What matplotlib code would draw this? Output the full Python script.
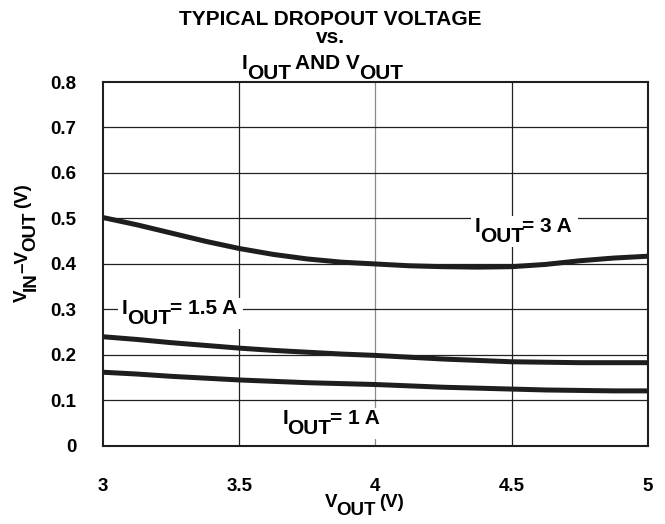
import numpy as np
import matplotlib.pyplot as plt
from matplotlib.transforms import Bbox
from matplotlib.patches import Rectangle

plt.rcParams['font.family'] = ['Liberation Sans', 'DejaVu Sans']
plt.rcParams['font.weight'] = 'bold'

# data
v_out = [3.0, 3.125, 3.25, 3.375, 3.5, 3.625, 3.75, 3.875, 4.0,
         4.125, 4.25, 4.375, 4.5, 4.625, 4.75, 4.875, 5.0]
drop_3a = [0.502, 0.486, 0.468, 0.450, 0.434, 0.421, 0.411, 0.404, 0.400,
           0.396, 0.394, 0.393, 0.394, 0.399, 0.407, 0.413, 0.417]
drop_1p5a = [0.240, 0.234, 0.227, 0.221, 0.215, 0.210, 0.206, 0.202, 0.199,
             0.195, 0.191, 0.188, 0.185, 0.184, 0.183, 0.183, 0.183]
drop_1a = [0.162, 0.158, 0.153, 0.149, 0.145, 0.142, 0.139, 0.137, 0.135,
           0.132, 0.129, 0.127, 0.125, 0.123, 0.122, 0.121, 0.121]

xticks = [3, 3.5, 4, 4.5, 5]
xtick_labels = ['3', '3.5', '4', '4.5', '5']
yticks = [0, 0.1, 0.2, 0.3, 0.4, 0.5, 0.6, 0.7, 0.8]
ytick_labels = ['0', '0.1', '0.2', '0.3', '0.4', '0.5', '0.6', '0.7', '0.8']

fig = plt.figure(figsize=(6.65, 5.24), dpi=100)
ax = fig.add_axes([0.155, 0.149, 0.819, 0.6945])


def chain(x, y, pieces, size, transform, rotation=0, zorder=5):
    # text with same-size lowered subscripts: pieces = [(text, shift_pts, gap_pts)]
    out = []
    prev_shift = 0
    for i, (s, shift, gap) in enumerate(pieces):
        if i == 0:
            if rotation:
                t = fig.text(x, y, s, fontsize=size, rotation=90, ha='right', va='bottom',
                             transform=transform, zorder=zorder)
            else:
                t = ax.text(x, y, s, fontsize=size, ha='left', va='baseline',
                            transform=transform, zorder=zorder)
        else:
            if rotation:
                t = ax.annotate(s, xy=(1, 1), xycoords=out[-1], rotation=90,
                                xytext=(-(shift - prev_shift), gap), textcoords='offset points',
                                fontsize=size, ha='right', va='bottom', zorder=zorder,
                                annotation_clip=False)
            else:
                t = ax.annotate(s, xy=(1, 0), xycoords=out[-1],
                                xytext=(gap, shift - prev_shift), textcoords='offset points',
                                fontsize=size, ha='left', va='bottom', zorder=zorder,
                                annotation_clip=False)
        prev_shift = shift
        out.append(t)
    return out


for x in xticks[1:-1]:
    c = '#8a8a8a' if x == 4 else '#222222'
    ax.axvline(x, color=c, lw=0.9, zorder=1)
for y in yticks[1:-1]:
    ax.axhline(y, color='#222222', lw=0.9, zorder=1)

for d in (drop_3a, drop_1p5a, drop_1a):
    ax.plot(v_out, d, color='#1e1e1e', lw=3.6, solid_capstyle='round', zorder=3)

ax.set_xlim(3, 5)
ax.set_ylim(0, 0.8)
ax.set_xticks(xticks)
ax.set_xticklabels(xtick_labels)
ax.set_yticks(yticks)
ax.set_yticklabels(ytick_labels)
ax.tick_params(length=0, labelsize=13.5, pad=23)
ax.tick_params(axis='y', pad=19)
for s in ax.spines.values():
    s.set_linewidth(1.5)
    s.set_color('#1e1e1e')

sub = -7
labels = [
    chain(4.365, 0.470, [('I', 0, 0), ('OUT', sub, -0.5), ('= 3 A', 0, -1.0)], 15, ax.transData),
    chain(3.069, 0.290, [('I', 0, 0), ('OUT', sub, -0.5), ('= 1.5 A', 0, -1.0)], 15, ax.transData),
    chain(3.659, 0.048, [('I', 0, 0), ('OUT', sub, -0.5), ('= 1 A', 0, -1.0)], 15, ax.transData),
]

# axis labels
chain(325 / 665, 0.0324, [('V', 0, 0), ('OUT', -6, -0.8), ('(V)', 0, 2.5)], 13.5, fig.transFigure)
chain(0.0466, 0.4237, [('V', 0, 0), ('IN', -6, -0.8), ('\u2013V', 0, -0.5),
                       ('OUT', -6, -0.8), ('(V)', 0, 2)], 13.5, fig.transFigure, rotation=90)

# title
fig.text(0.497, 0.952, 'TYPICAL DROPOUT VOLTAGE', fontsize=15, ha='center', va='baseline')
fig.text(0.497, 0.918, 'vs.', fontsize=15, ha='center', va='baseline')
chain(0.364, 0.868, [('I', 0, 0), ('OUT', -7, -0.5), ('AND V', 0, 3), ('OUT', -7, -0.8)], 15,
      fig.transFigure)

# white background behind the curve labels
fig.canvas.draw()
r = fig.canvas.get_renderer()
inv = ax.transData.inverted()
for grp in labels:
    bb = Bbox.union([t.get_window_extent(r) for t in grp])
    bb = Bbox.from_extents(bb.x0 - 4, bb.y0 - 1, bb.x1 + 6, bb.y1 + 1)
    (x0, y0), (x1, y1) = inv.transform([[bb.x0, bb.y0], [bb.x1, bb.y1]])
    ax.add_patch(Rectangle((x0, y0), x1 - x0, y1 - y0, facecolor='white',
                           edgecolor='none', zorder=2))

fig.savefig('out.png', dpi=100)
